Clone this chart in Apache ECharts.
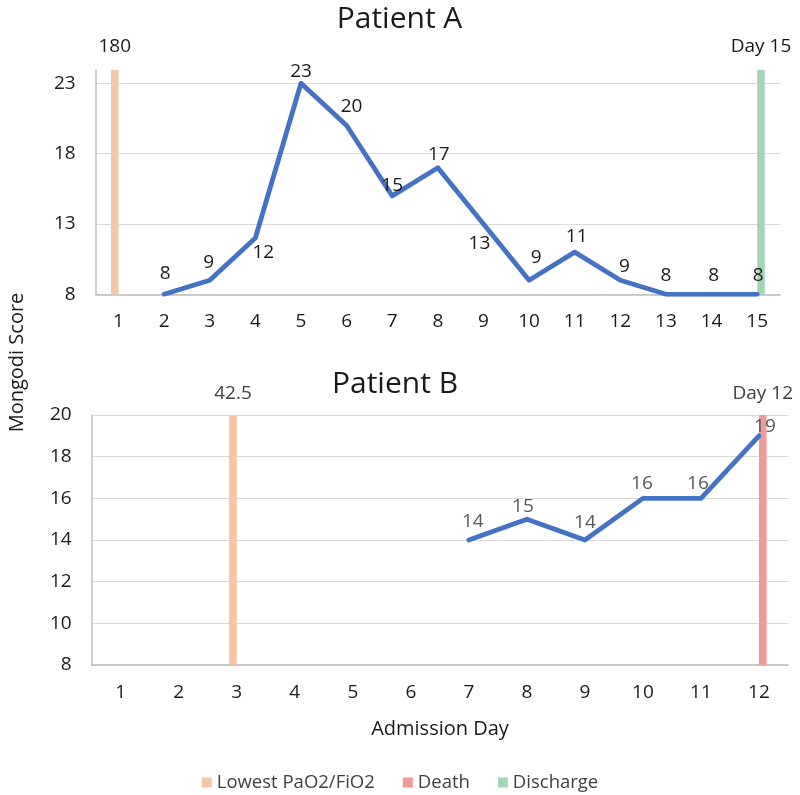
<!DOCTYPE html>
<html><head><meta charset="utf-8">
<script src="https://cdn.jsdelivr.net/npm/echarts@6/dist/echarts.min.js"></script>
<style>html,body{margin:0;padding:0;background:#fff}#c{width:800px;height:795px}</style>
</head><body><div id="c"></div>
<script>
// ---------- data ----------
const daysA = ['1','2','3','4','5','6','7','8','9','10','11','12','13','14','15'];
const scoreA = [null, 8, 9, 12, 23, 20, 15, 17, 13, 9, 11, 9, 8, 8, 8];
const lowestPfA = ['180', null, null, null, null, null, null, null, null, null, null, null, null, null, null];
const dischargeA = [null, null, null, null, null, null, null, null, null, null, null, null, null, null, 'Day 15'];
const yTicksA = [8, 13, 18, 23];

const daysB = ['1','2','3','4','5','6','7','8','9','10','11','12'];
const scoreB = [null, null, null, null, null, null, 14, 15, 14, 16, 16, 19];
const lowestPfB = [null, null, '42.5', null, null, null, null, null, null, null, null, null];
const deathB = [null, null, null, null, null, null, null, null, null, null, null, 'Day 12'];
const yTicksB = [8, 10, 12, 14, 16, 18, 20];

const titles = ['Patient A', 'Patient B'];
const yName = 'Mongodi Score';
const xName = 'Admission Day';
const legendNames = ['Lowest PaO2/FiO2', 'Death', 'Discharge'];

// ---------- styles (label placement, colours) ----------
const offA = [null,[1,-21],[-1,-18],[8,15],[0,-12],[5,-19],[0,-10],[1,-13],[-4,20],[7,-23],[2,-16],[4,-14],[0,-19],[2,-19],[1,-19]];
const offB = [null,null,null,null,null,null,[4,-18],[-4,-13],[0,-17],[-1,-15],[-3,-15],[6,-9]];
const C_LINE = '#4472C4', C_ORANGE = '#F5C6A5', C_RED = '#F09A9A', C_GREEN = '#A3D6B6';
const FONT = 'Open Sans';
const TXT = '#1a1a1a';

const lineData = (vals, offs) => vals.map((v, i) => v == null ? null : { value: v, label: { offset: offs[i] } });
const barData = arr => arr.map(t => t == null ? null : { value: 1, txt: t });

const gA = { left: 95.7, right: 20, top: 83.3, height: 211 };
const gAb = { left: 95.7, right: 20, top: 70, height: 224.3 };
const gB = { left: 91.7, right: 12, top: 415, height: 250 };

const catAxis = (grid, data, show) => ({
  type: 'category', gridIndex: grid, data: data, boundaryGap: true, show: show,
  axisTick: { show: false },
  axisLine: { show: true, lineStyle: { color: '#BFBFBF', width: 1.5 } },
  axisLabel: { margin: 18, fontFamily: FONT, fontSize: 19, color: TXT }
});
const valAxis = (grid, ticks) => ({
  type: 'value', gridIndex: grid, min: ticks[0], max: ticks[ticks.length - 1], interval: ticks[1] - ticks[0],
  axisLine: { show: false }, axisTick: { show: false },
  splitLine: { lineStyle: { color: '#D9D9D9', width: 1.2 } },
  axisLabel: { margin: 20, fontFamily: FONT, fontSize: 19, color: TXT }
});
const markAxis = grid => ({
  type: 'value', gridIndex: grid, min: 0, max: 1,
  axisLine: { show: true, lineStyle: { color: '#BFBFBF', width: 1.5 } },
  axisTick: { show: false }, axisLabel: { show: false }, splitLine: { show: false }
});
const barSeries = (name, arr, color, xi, yi, dist, labColor) => ({
  name: name, type: 'bar', xAxisIndex: xi, yAxisIndex: yi, data: barData(arr),
  barWidth: 7.6, barGap: '0%', z: 1, itemStyle: { color: color },
  label: { show: true, position: 'top', distance: dist, fontFamily: FONT, fontSize: 19, color: labColor,
           formatter: p => p.data && p.data.txt ? p.data.txt : '' }
});
const lineSeries = (vals, offs, xi, yi, labColor) => ({
  type: 'line', xAxisIndex: xi, yAxisIndex: yi, data: lineData(vals, offs),
  symbol: 'circle', symbolSize: 2, z: 5,
  lineStyle: { color: C_LINE, width: 4.8, cap: 'round', join: 'round' },
  itemStyle: { color: C_LINE },
  label: { show: true, position: 'inside', fontFamily: FONT, fontSize: 19, color: labColor },
  animation: false
});

const chart = echarts.init(document.getElementById('c'), null, { renderer: 'canvas' });
chart.setOption({
  animation: false,
  backgroundColor: '#fff',
  grid: [
    Object.assign({}, gA), Object.assign({}, gAb),
    Object.assign({}, gB), Object.assign({}, gB)
  ],
  xAxis: [
    catAxis(0, daysA, true),
    catAxis(1, daysA, false),
    catAxis(2, daysB, true),
    catAxis(3, daysB, false)
  ],
  yAxis: [
    valAxis(0, yTicksA), markAxis(1),
    valAxis(2, yTicksB), markAxis(3)
  ],
  legend: {
    data: legendNames.map(n => ({ name: n, icon: 'rect' })),
    left: 'center', top: 768, itemWidth: 10, itemHeight: 10, itemGap: 28,
    textStyle: { fontFamily: FONT, fontSize: 18.5, color: '#404040' },
    selectedMode: false
  },
  series: [
    barSeries(legendNames[0], lowestPfA, C_ORANGE, 1, 1, 14, TXT),
    barSeries(legendNames[2], dischargeA, C_GREEN, 1, 1, 14, TXT),
    lineSeries(scoreA, offA, 0, 0, TXT),
    barSeries(legendNames[0], lowestPfB, C_ORANGE, 3, 3, 12, '#404040'),
    barSeries(legendNames[1], deathB, C_RED, 3, 3, 12, '#404040'),
    lineSeries(scoreB, offB, 2, 2, '#595959')
  ],
  graphic: [
    { type: 'text', x: 399.5, y: 19, style: { text: titles[0], font: '30px "Open Sans"', fill: TXT, textAlign: 'center', textVerticalAlign: 'middle' } },
    { type: 'text', x: 395, y: 384, style: { text: titles[1], font: '30px "Open Sans"', fill: TXT, textAlign: 'center', textVerticalAlign: 'middle' } },
    { type: 'text', x: 17.5, y: 362.5, rotation: Math.PI / 2, style: { text: yName, font: '20px "Open Sans"', fill: TXT, textAlign: 'center', textVerticalAlign: 'middle' } },
    { type: 'text', x: 440, y: 729, style: { text: xName, font: '20px "Open Sans"', fill: TXT, textAlign: 'center', textVerticalAlign: 'middle' } }
  ]
});
</script>
</body></html>
